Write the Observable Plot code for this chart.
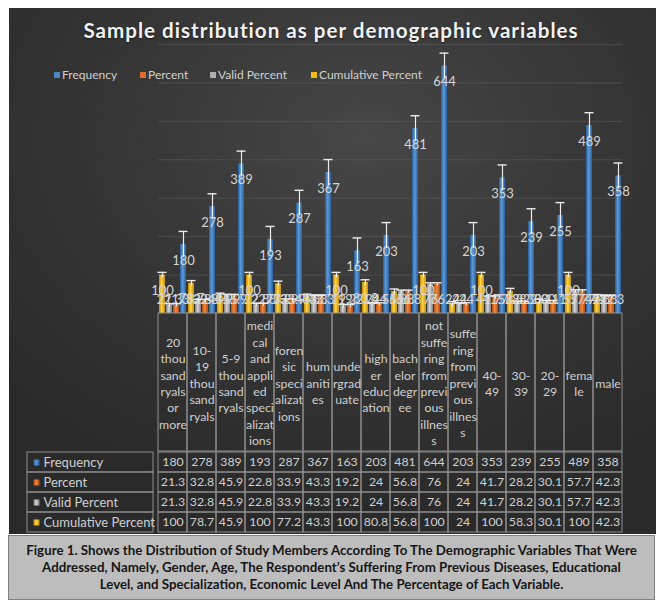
<!DOCTYPE html>
<html>
<head>
<meta charset="utf-8">
<script src="https://cdn.jsdelivr.net/npm/d3@7"></script>
<script src="https://cdn.jsdelivr.net/npm/@observablehq/plot@0.6"></script>
<style>
  html, body { margin: 0; padding: 0; background: #ffffff; }
  body { width: 662px; height: 607px; position: relative; overflow: hidden; font-family: Lato, "Open Sans", sans-serif; }
  #panel { position: absolute; left: 9px; top: 8px; width: 647px; height: 526px;
    background: radial-gradient(ellipse 75% 70% at 55% 25%, #474747 0%, #383838 45%, #2a2a2a 100%); }
  #title { position: absolute; left: 0; width: 662px; top: 18px; text-align: center; color: #f2f2f2;
    font: bold 20.6px Lato, sans-serif; letter-spacing: 1px; text-shadow: 0 1px 2px rgba(0,0,0,0.6); }
  .leg { position: absolute; top: 67px; color: #d0d0d0; font-size: 12px; white-space: nowrap; }
  .leg i { display: inline-block; width: 6px; height: 6px; margin-right: 2px; vertical-align: 1px; }
  .abs { position: absolute; }
  .abs svg { overflow: visible; }
  #caption { position: absolute; left: 8px; top: 535px; width: 647px; height: 65px; background: #bdbdbd;
    border: 1px solid #808080; color: #161616; font: bold 13.3px Lato, sans-serif; text-align: center;
    line-height: 17px; padding-top: 6px; box-sizing: border-box; letter-spacing: 0; }
</style>
</head>
<body>
<svg width="0" height="0" style="position:absolute">
  <defs>
    <linearGradient id="gBlue" x1="0" x2="1" y1="0" y2="0">
      <stop offset="0" stop-color="#2a5c98"/><stop offset="0.45" stop-color="#5d9ad8"/><stop offset="1" stop-color="#2b5f9e"/>
    </linearGradient>
    <linearGradient id="gOrange" x1="0" x2="1" y1="0" y2="0">
      <stop offset="0" stop-color="#b0470f"/><stop offset="0.45" stop-color="#f48a3e"/><stop offset="1" stop-color="#b34a12"/>
    </linearGradient>
    <linearGradient id="gGray" x1="0" x2="1" y1="0" y2="0">
      <stop offset="0" stop-color="#7c7c7c"/><stop offset="0.45" stop-color="#d6d6d6"/><stop offset="1" stop-color="#7e7e7e"/>
    </linearGradient>
    <linearGradient id="gYellow" x1="0" x2="1" y1="0" y2="0">
      <stop offset="0" stop-color="#bf8c00"/><stop offset="0.45" stop-color="#ffd34d"/><stop offset="1" stop-color="#c29000"/>
    </linearGradient>
  </defs>
</svg>
<div id="panel"></div>
<div id="title">Sample distribution as per demographic variables</div>
<div id="legend"></div>
<div id="bars" class="abs" style="left:0;top:0"></div>
<div id="thead" class="abs" style="left:0;top:313px"></div>
<div id="tlabels" class="abs" style="left:27px;top:451px"></div>
<div id="tgrid" class="abs" style="left:0;top:451px"></div>
<div id="caption">Figure 1. Shows the Distribution of Study Members According To The Demographic Variables That Were<br>Addressed, Namely, Gender, Age, The Respondent’s Suffering From Previous Diseases, Educational<br>Level, and Specialization, Economic Level And The Percentage of Each Variable.</div>
<script>
// ---------------- data ----------------
const categories = [
  "20 thousand ryals or more", "10-19 thousand ryals", "5-9 thousand ryals",
  "medical and applied specializations", "forensic specializations", "humanities",
  "undergraduate", "higher education", "bachelor degree",
  "not suffering from previous illness", "suffering from previous illness",
  "40-49", "30-39", "20-29", "female", "male"
];
const headerLabels = [
  "20\nthou\nsand\nryals\nor\nmore", "10-\n19\nthou\nsand\nryals", "5-9\nthou\nsand\nryals",
  "medi\ncal\nand\nappli\ned\nspeci\nalizat\nions", "foren\nsic\nspeci\nalizat\nions", "hum\naniti\nes",
  "unde\nrgrad\nuate", "high\ner\neduc\nation", "bach\nelor\ndegr\nee",
  "not\nsuffe\nring\nfrom\nprevi\nous\nillnes\ns", "suffe\nring\nfrom\nprevi\nous\nillnes\ns",
  "40-\n49", "30-\n39", "20-\n29", "fema\nle", "male"
];
const frequency = [180, 278, 389, 193, 287, 367, 163, 203, 481, 644, 203, 353, 239, 255, 489, 358];
const percent = [21.3, 32.8, 45.9, 22.8, 33.9, 43.3, 19.2, 24, 56.8, 76, 24, 41.7, 28.2, 30.1, 57.7, 42.3];
const validPercent = [21.3, 32.8, 45.9, 22.8, 33.9, 43.3, 19.2, 24, 56.8, 76, 24, 41.7, 28.2, 30.1, 57.7, 42.3];
const cumulativePercent = [100, 78.7, 45.9, 100, 77.2, 43.3, 100, 80.8, 56.8, 100, 24, 100, 58.3, 30.1, 100, 42.3];
const seriesNames = ["Frequency", "Percent", "Valid Percent", "Cumulative Percent"];
const seriesFills = ["url(#gBlue)", "url(#gOrange)", "url(#gGray)", "url(#gYellow)"];
const legendColors = ["#4a88c8", "#e36c2a", "#b0b0b0", "#f2bd14"];
const barOrder = ["Cumulative Percent", "Valid Percent", "Percent", "Frequency"];
const gridTicks = [100, 200, 300, 400, 500, 600, 700];

// ---------------- build table ----------------
const seriesValues = [frequency, percent, validPercent, cumulativePercent];
const stdErr = seriesValues.map(v => d3.deviation(v) / Math.sqrt(v.length));
const rows = [];
seriesNames.forEach((s, i) => categories.forEach((c, j) =>
  rows.push({series: s, category: c, value: seriesValues[i][j], se: stdErr[i]})));

// layout
const W = 662, mL = 153, mR = 36, topY = 44, baseY = 313;
const pxPerUnit = (baseY - topY) / 700;
const labelDown = 16 / pxPerUnit, labelMin = 14 / pxPerUnit;
const labelColor = "#d6d6d6";

// legend
const legPos = [54, 140, 210, 311];
const legend = document.getElementById("legend");
seriesNames.forEach((s, i) => {
  const el = document.createElement("div");
  el.className = "leg";
  el.style.left = legPos[i] + "px";
  el.innerHTML = `<i style="background:${legendColors[i]}"></i>${s}`;
  legend.appendChild(el);
});

const colorScale = {domain: seriesNames, range: seriesFills, type: "ordinal"};

// ---------------- bars ----------------
const bars = Plot.plot({
  width: W, height: baseY + 7,
  marginLeft: mL, marginRight: mR, marginTop: topY, marginBottom: 7,
  style: {background: "transparent", fontFamily: "Lato, sans-serif"},
  fx: {domain: categories, paddingInner: 0, paddingOuter: 0, axis: null},
  x: {domain: barOrder, paddingInner: 0.14, paddingOuter: 0.12, axis: null},
  y: {domain: [0, 700], axis: null},
  color: colorScale,
  marks: [
    Plot.ruleY(gridTicks, {stroke: "#5e5e5e", strokeOpacity: 0.55, strokeWidth: 1}),
    Plot.barY(rows, {fx: "category", x: "series", y: "value", fill: "series"}),
    Plot.text(rows, {fx: "category", x: "series",
      y: d => Math.max(d.value - labelDown, labelMin),
      text: d => String(d.value), fill: labelColor, fontSize: 13}),
    Plot.ruleX(rows, {fx: "category", x: "series", y1: d => d.value - d.se, y2: d => d.value + d.se,
      stroke: "#ececec", strokeWidth: 1.2}),
    Plot.tickY(rows, {fx: "category", x: "series", y: d => d.value + d.se,
      stroke: "#ececec", strokeWidth: 1.4, insetLeft: -1.5, insetRight: -1.5})
  ]
});
document.getElementById("bars").appendChild(bars);

// ---------------- table header ----------------
const headRows = categories.map((c, i) => ({category: c, label: headerLabels[i]}));
const thead = Plot.plot({
  width: W, height: 138,
  marginLeft: mL, marginRight: mR, marginTop: 0, marginBottom: 0,
  style: {background: "transparent", fontFamily: "Lato, sans-serif"},
  x: {domain: categories, padding: 0, axis: null},
  marks: [
    Plot.cell(headRows, {x: "category", fill: "none", stroke: "#8f8f8f", strokeWidth: 1}),
    Plot.text(headRows, {x: "category", text: "label", fill: "#d0d0d0", fontSize: 12.3, lineHeight: 1.34})
  ]
});
document.getElementById("thead").appendChild(thead);

// ---------------- table grid ----------------
const tgrid = Plot.plot({
  width: W, height: 82,
  marginLeft: mL, marginRight: mR, marginTop: 0, marginBottom: 0,
  style: {background: "transparent", fontFamily: "Lato, sans-serif"},
  x: {domain: categories, padding: 0, axis: null},
  y: {domain: seriesNames, padding: 0, axis: null},
  marks: [
    Plot.cell(rows, {x: "category", y: "series", fill: "none", stroke: "#8f8f8f", strokeWidth: 1}),
    Plot.text(rows, {x: "category", y: "series", text: d => String(d.value), fill: "#d0d0d0", fontSize: 12.3})
  ]
});
document.getElementById("tgrid").appendChild(tgrid);

// ---------------- table row labels ----------------
const tlabels = Plot.plot({
  width: 126, height: 82,
  marginLeft: 0, marginRight: 0, marginTop: 0, marginBottom: 0,
  style: {background: "transparent", fontFamily: "Lato, sans-serif"},
  y: {domain: seriesNames, padding: 0, axis: null},
  color: colorScale,
  marks: [
    Plot.cell(seriesNames, {y: d => d, fill: "none", stroke: "#8f8f8f", strokeWidth: 1}),
    Plot.dot(seriesNames, {y: d => d, frameAnchor: "left", dx: 9, symbol: "square", r: 3.4, fill: d => d}),
    Plot.text(seriesNames, {y: d => d, frameAnchor: "left", dx: 16, textAnchor: "start", text: d => d,
      fill: "#d0d0d0", fontSize: 13})
  ]
});
document.getElementById("tlabels").appendChild(tlabels);
</script>
</body>
</html>
